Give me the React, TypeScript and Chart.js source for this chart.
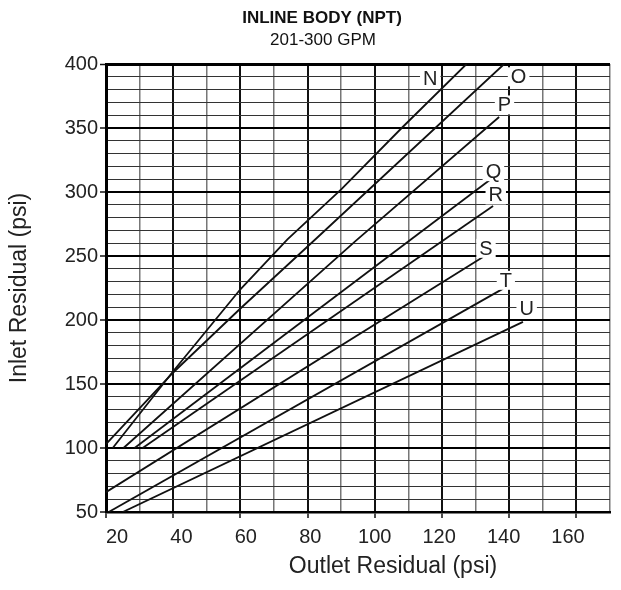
import React, { useEffect, useRef } from 'react';
import { Chart, registerables } from 'chart.js';

Chart.register(...registerables);

const titleText = 'INLINE BODY (NPT)';
const subtitleText = '201-300 GPM';
const xAxisTitle = 'Outlet Residual (psi)';
const yAxisTitle = 'Inlet Residual (psi)';

// tick labels
const xTickLabels = [20, 40, 60, 80, 100, 120, 140, 160];
const yTickLabels = [50, 100, 150, 200, 250, 300, 350, 400];

// curve names
const curveNames = ['N', 'O', 'P', 'Q', 'R', 'S', 'T', 'U'];

// curve values: outlet residual (x) / inlet residual (y)
const outletN = [22, 40, 60, 74, 90, 108, 127.3];
const inletN = [100, 160, 224, 263, 302, 350, 400];
const outletO = [20, 40, 60, 82.5, 138.5];
const inletO = [103, 159, 209, 263.5, 400];
const outletP = [25.2, 94.4, 137];
const inletP = [100, 262, 358.6];
const outletQ = [28.5, 134.5];
const inletQ = [100, 310];
const outletR = [30.9, 135.2];
const inletR = [100, 289];
const outletS = [20, 132.2];
const inletS = [65.5, 249.2];
const outletT = [20.8, 138.2];
const inletT = [50, 224.5];
const outletU = [25, 144.1];
const inletU = [50, 198.5];

// where the curve letters sit (outlet, inlet)
const letterOutlet = [116.5, 142.8, 138.6, 135.3, 136, 133.1, 139, 145.2];
const letterInlet = [388.8, 390, 368, 315.9, 297.7, 256, 231, 209];

const FONT = "'Liberation Sans', Arial, Helvetica, sans-serif";

export default function App() {
  const ref = useRef<HTMLCanvasElement>(null);

  useEffect(() => {
    const canvas = ref.current;
    if (!canvas) return;

    const outlets = [outletN, outletO, outletP, outletQ, outletR, outletS, outletT, outletU];
    const inlets = [inletN, inletO, inletP, inletQ, inletR, inletS, inletT, inletU];

    const datasets = curveNames.map((name, k) => ({
      label: name,
      data: outlets[k].map((v, i) => ({ x: v, y: inlets[k][i] })),
      showLine: true,
      borderColor: '#111',
      borderWidth: 1.8,
      pointRadius: 0,
      pointHoverRadius: 0,
      fill: false,
      tension: 0,
      xAxisID: 'x',
      yAxisID: 'y',
    }));

    const titlePlugin = {
      id: 'titleText',
      afterDraw(chart: any) {
        const ctx = chart.ctx;
        ctx.save();
        ctx.fillStyle = '#111';
        ctx.textAlign = 'center';
        ctx.textBaseline = 'middle';
        ctx.font = `bold 17px ${FONT}`;
        ctx.fillText(titleText, 322, 18);
        ctx.font = `17px ${FONT}`;
        ctx.fillText(subtitleText, 323, 40);
        // x axis title (sits right of centre in the original)
        ctx.fillStyle = '#222';
        ctx.font = `23px ${FONT}`;
        ctx.fillText(xAxisTitle, 393, 567);
        ctx.restore();
      },
    };

    const letterPlugin = {
      id: 'curveLetters',
      afterDatasetsDraw(chart: any) {
        const ctx = chart.ctx;
        const xs = chart.scales.x;
        const ys = chart.scales.y;
        ctx.save();
        ctx.font = `20px ${FONT}`;
        ctx.textAlign = 'center';
        ctx.textBaseline = 'middle';
        curveNames.forEach((name, i) => {
          const px = xs.getPixelForValue(letterOutlet[i]);
          const py = ys.getPixelForValue(letterInlet[i]);
          const w = ctx.measureText(name).width + 6;
          const h = 19;
          ctx.fillStyle = '#fff';
          ctx.fillRect(px - w / 2, py - h / 2, w, h);
          ctx.fillStyle = '#222';
          ctx.fillText(name, px, py + 1);
        });
        ctx.restore();
      },
    };

    const chart = new Chart(canvas, {
      type: 'scatter',
      data: { datasets },
      options: {
        responsive: false,
        animation: false,
        devicePixelRatio: 1,
        events: [],
        layout: { padding: { left: 0, right: 11, top: 64, bottom: 0 } },
        plugins: {
          legend: { display: false },
          tooltip: { enabled: false },
          title: { display: false },
        },
        scales: {
          x: {
            type: 'linear',
            position: 'bottom',
            min: 20,
            max: 170,
            weight: 0,
            ticks: { stepSize: 10, display: false, autoSkip: false },
            grid: {
              color: (c: any) => (c.tick && c.tick.value % 20 === 0 ? '#111' : '#777'),
              lineWidth: (c: any) => (c.tick && c.tick.value % 20 === 0 ? 2 : 1.5),
              tickLength: 6,
              tickWidth: 1.5,
              tickColor: (c: any) => (c.tick && c.tick.value % 20 === 0 && c.tick.value < 170 ? '#111' : 'rgba(0,0,0,0)'),
            },
            border: { display: true, width: 2.5, color: '#000' },
            afterFit: (s: any) => { s.height = 6; },
          },
          xl: {
            type: 'linear',
            position: 'bottom',
            min: 16.58,
            max: 173.04,
            weight: 1,
            afterBuildTicks: (s: any) => { s.ticks = xTickLabels.map((v) => ({ value: v })); },
            ticks: { autoSkip: false, maxRotation: 0, padding: 7, color: '#222', font: { family: FONT, size: 20 } },
            grid: { display: false, drawTicks: false, tickLength: 0 },
            border: { display: false },
            afterFit: (s: any) => { s.height = 72; },
          },
          y: {
            type: 'linear',
            position: 'left',
            min: 50,
            max: 400,
            ticks: {
              stepSize: 10,
              autoSkip: false,
              padding: 2,
              color: '#222',
              font: { family: FONT, size: 20 },
              callback: (v: any) => (yTickLabels.includes(Number(v)) ? String(v) : ''),
            },
            grid: {
              color: (c: any) => (c.tick && c.tick.value % 50 === 0 ? '#000' : '#333'),
              lineWidth: (c: any) => (c.tick && c.tick.value === 400 ? 3 : c.tick && c.tick.value % 50 === 0 ? 2 : 1),
              tickLength: 6,
              tickWidth: 1.5,
              tickColor: (c: any) => (c.tick && c.tick.value % 50 === 0 ? '#111' : 'rgba(0,0,0,0)'),
            },
            border: { display: true, width: 3, color: '#000' },
            title: {
              display: true,
              text: yAxisTitle,
              color: '#222',
              font: { family: FONT, size: 23 },
              padding: { top: 6, bottom: 0 },
            },
            afterFit: (s: any) => { s.width = 106; },
          },
        },
      },
      plugins: [titlePlugin, letterPlugin],
    } as any);

    return () => chart.destroy();
  }, []);

  return (
    <canvas
      ref={ref}
      width={621}
      height={590}
      style={{ position: 'fixed', left: 0, top: 0, width: 621, height: 590, background: '#fff' }}
    />
  );
}
